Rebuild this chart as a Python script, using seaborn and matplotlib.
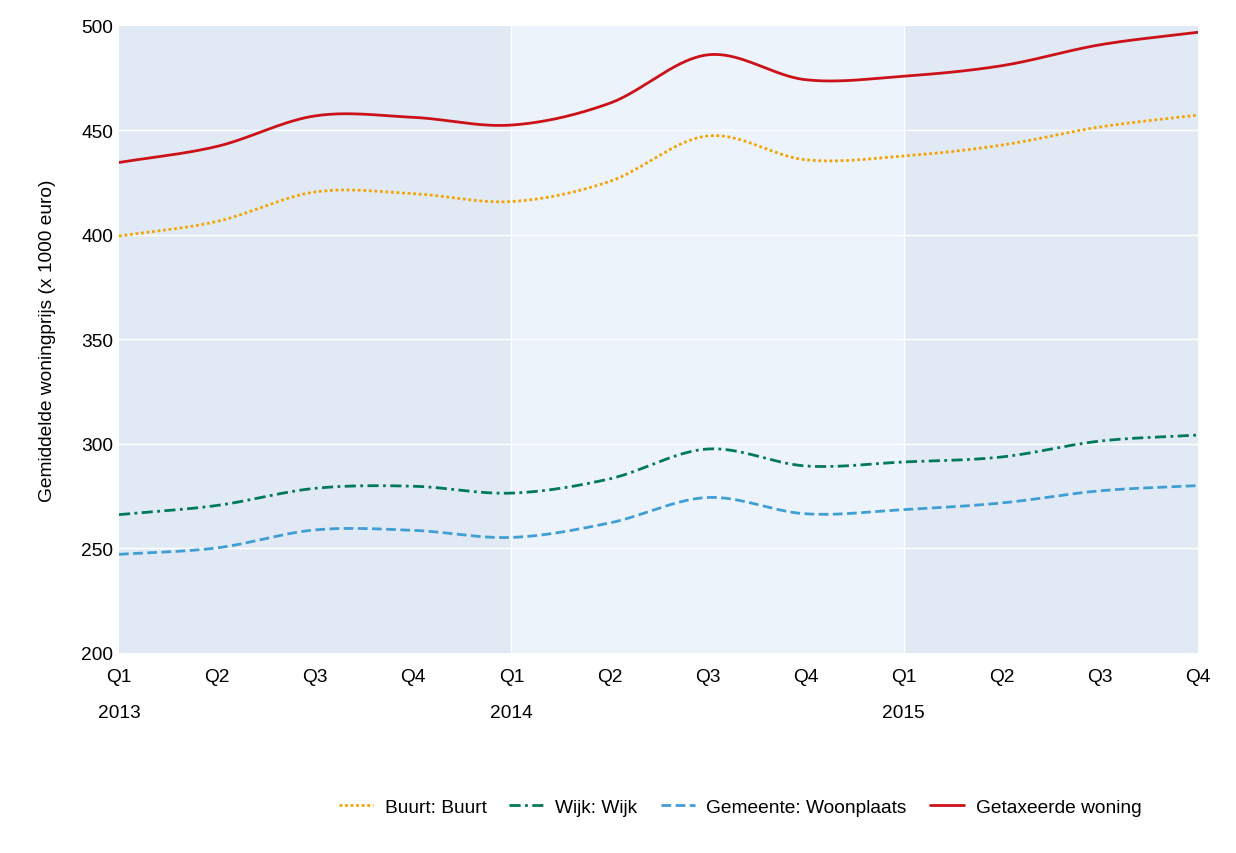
import numpy as np
import pandas as pd
import matplotlib
matplotlib.use("Agg")
import matplotlib.pyplot as plt
import matplotlib.transforms as mtransforms
import seaborn as sns

# ---- data ----
quarters = ["Q1", "Q2", "Q3", "Q4", "Q1", "Q2", "Q3", "Q4", "Q1", "Q2", "Q3", "Q4"]
years = ["2013", "2014", "2015"]
buurt = [399.5, 406.5, 420.6, 419.8, 416.0, 425.6, 447.4, 436.0, 437.8, 443.0, 451.7, 457.4]
wijk = [266.2, 270.6, 278.8, 279.8, 276.5, 283.3, 297.6, 289.5, 291.4, 293.8, 301.4, 304.3]
gemeente = [247.2, 250.3, 258.9, 258.7, 255.3, 262.2, 274.4, 266.6, 268.6, 271.8, 277.6, 280.1]
getaxeerd = [434.7, 442.4, 457.0, 456.3, 452.6, 463.0, 486.2, 474.3, 476.0, 481.0, 491.0, 497.0]
series_names = ["Buurt: Buurt", "Wijk: Wijk", "Gemeente: Woonplaats", "Getaxeerde woning"]

colors = ["#f5a300", "#00795a", "#3f9fd5", "#cc1119"]
dash_patterns = [(1.0, 1.0), (4.0, 1.6, 1.0, 1.6), (3.5, 1.6), None]


def smooth(vals, n=40):
    y = np.asarray(vals, float)
    m = np.gradient(y)
    xs, ys = [], []
    for i in range(len(y) - 1):
        t = np.linspace(0, 1, n, endpoint=(i == len(y) - 2))
        h00 = 2 * t**3 - 3 * t**2 + 1
        h10 = t**3 - 2 * t**2 + t
        h01 = -2 * t**3 + 3 * t**2
        h11 = t**3 - t**2
        ys.append(h00 * y[i] + h10 * m[i] + h01 * y[i + 1] + h11 * m[i + 1])
        xs.append(i + t)
    return np.concatenate(xs), np.concatenate(ys)


sns.set_style("white")
plt.rcParams["font.family"] = ["Liberation Sans", "DejaVu Sans"]
plt.rcParams["text.color"] = "black"
plt.rcParams["axes.labelcolor"] = "black"
plt.rcParams["xtick.color"] = "black"
plt.rcParams["ytick.color"] = "black"

FS = 13.8

fig = plt.figure(figsize=(12.36, 8.54), dpi=100)
ax = fig.add_axes([119 / 1236, 1 - 654 / 854, (1198 - 119) / 1236, (654 - 27) / 854])

n = len(quarters)
# background bands per year
dark = "#e1eaf4"
light = "#ecf3fa"
ax.axvspan(0, 4, color=dark, zorder=0, lw=0)
ax.axvspan(4, 8, color=light, zorder=0, lw=0)
ax.axvspan(8, n - 1, color=dark, zorder=0, lw=0)
for yv in [250, 300, 350, 400, 450]:
    ax.axhline(yv, color="white", lw=1.0, zorder=1)
for xv in [4, 8]:
    ax.axvline(xv, color="white", lw=1.0, zorder=1)

all_series = [buurt, wijk, gemeente, getaxeerd]
for vals, name, col, dp in zip(all_series, series_names, colors, dash_patterns):
    xs, ys = smooth(vals)
    df = pd.DataFrame({"x": xs, "y": ys})
    sns.lineplot(data=df, x="x", y="y", ax=ax, color=col, lw=2.0, label=name,
                 zorder=3, sort=False)
    line = ax.lines[-1]
    if dp is not None:
        line.set_dashes(dp)
        line.set_dash_capstyle("butt")

ax.set_xlim(0, n - 1)
ax.set_ylim(200, 500)
ax.set_yticks([200, 250, 300, 350, 400, 450, 500])
ax.set_xticks(range(n))
ax.set_xticklabels(quarters)
ax.tick_params(axis="x", length=0, pad=11, labelsize=FS, labelcolor="black")
ax.tick_params(axis="y", length=0, pad=4, labelsize=FS, labelcolor="black")
for s in ax.spines.values():
    s.set_visible(False)
ax.set_xlabel("")
ax.set_ylabel("Gemiddelde woningprijs (x 1000 euro)", fontsize=FS, labelpad=18, color="black")

trans = mtransforms.blended_transform_factory(ax.transData, fig.transFigure)
for i, yr in enumerate(years):
    ax.text(i * 4, 1 - 714 / 854, yr, transform=trans, ha="center", va="center",
            fontsize=FS, color="black")

handles, labels = ax.get_legend_handles_labels()
ax.legend_.remove()
leg = fig.legend(handles, labels, loc="center", bbox_to_anchor=(740 / 1236, 1 - 808 / 854),
                 ncol=4, frameon=False, fontsize=FS, handlelength=1.8, handletextpad=0.6,
                 columnspacing=1.2)
for t in leg.get_texts():
    t.set_color("black")

fig.savefig("out.png", dpi=100)
